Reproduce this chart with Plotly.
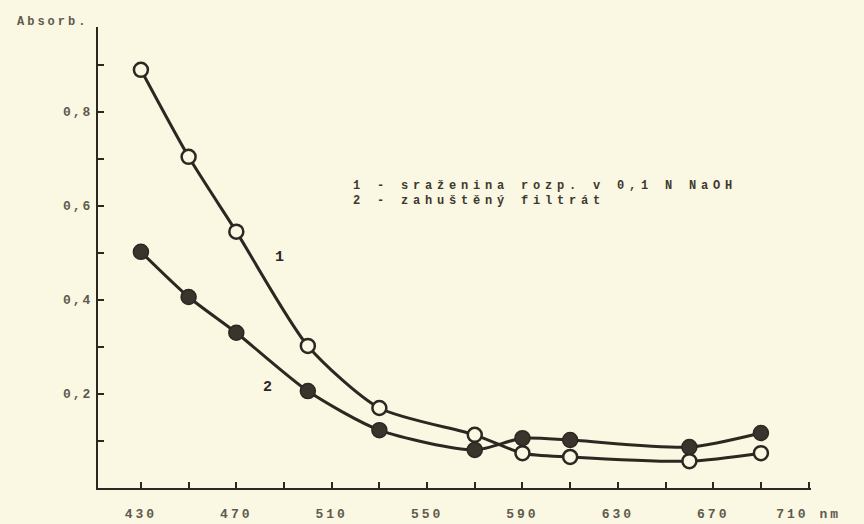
import plotly.graph_objects as go

# Data
wavelength = [430, 450, 470, 500, 530, 570, 590, 610, 660, 690]
absorb_1 = [0.889, 0.704, 0.545, 0.302, 0.170, 0.113, 0.074, 0.066, 0.057, 0.074]  # open circles
absorb_2 = [0.502, 0.406, 0.330, 0.206, 0.123, 0.081, 0.106, 0.102, 0.087, 0.117]  # filled circles

x_tickvals = [430, 450, 470, 490, 510, 530, 550, 570, 590, 610, 630, 650, 670, 690, 710]
x_ticktext = ["430", "", "470", "", "510", "", "550", "", "590", "", "630", "", "670", "", "710 nm"]
y_tickvals = [0.1, 0.2, 0.3, 0.4, 0.5, 0.6, 0.7, 0.8, 0.9]
y_ticktext = ["", "0,2", "", "0,4", "", "0,6", "", "0,8", ""]

legend_lines = ["1 - sraženina rozp. v 0,1 N NaOH", "2 - zahuštěný filtrát"]
curve_labels = ["1", "2"]

PAPER = "#faf7e3"
INK = "#2c2821"
FADED = "#5e5a4d"
FONT = "Liberation Mono"


def spaced(s, ls=4):
    return f'<span style="letter-spacing:{ls}px">{s}</span>'


fig = go.Figure()

fig.add_trace(go.Scatter(
    x=wavelength, y=absorb_1, mode="lines+markers",
    line=dict(color=INK, width=3, shape="spline", smoothing=0.7),
    marker=dict(symbol="circle", size=14, color=PAPER, line=dict(color=INK, width=2.5)),
    showlegend=False, hoverinfo="x+y",
))
fig.add_trace(go.Scatter(
    x=wavelength, y=absorb_2, mode="lines+markers",
    line=dict(color=INK, width=3, shape="spline", smoothing=0.7),
    marker=dict(symbol="circle", size=15, color="#3a342c", line=dict(color=INK, width=1.5)),
    showlegend=False, hoverinfo="x+y",
))

# Curve labels
fig.add_annotation(x=488, y=0.489, xref="x", yref="y", text=curve_labels[0],
                   showarrow=False, font=dict(family=FONT, size=15, color=INK, weight="bold"))
fig.add_annotation(x=483, y=0.213, xref="x", yref="y", text=curve_labels[1],
                   showarrow=False, font=dict(family=FONT, size=15, color=INK, weight="bold"))

# Key text
fig.add_annotation(x=518, y=0.643, xref="x", yref="y", text=spaced(legend_lines[0], 4.8),
                   showarrow=False, xanchor="left", yanchor="middle",
                   font=dict(family=FONT, size=12, color="#3e392f", weight="bold"))
fig.add_annotation(x=518, y=0.610, xref="x", yref="y", text=spaced(legend_lines[1], 4.8),
                   showarrow=False, xanchor="left", yanchor="middle",
                   font=dict(family=FONT, size=12, color="#3e392f", weight="bold"))

# Y axis title
fig.add_annotation(x=-0.117, y=1.011, xref="paper", yref="paper", text=spaced("Absorb.", 3),
                   showarrow=False, xanchor="left", yanchor="middle",
                   font=dict(family=FONT, size=12, color=FADED, weight="bold"))

fig.update_xaxes(
    range=[412, 711], showline=True, linecolor=INK, linewidth=2,
    ticks="inside", ticklen=6, tickwidth=1.5, tickcolor=INK,
    tickvals=x_tickvals, ticktext=[spaced(t, 3) for t in x_ticktext],
    ticklabelstandoff=12, automargin=False,
    tickfont=dict(family=FONT, size=13, color=FADED, weight="bold"),
    showgrid=False, zeroline=False,
)
fig.update_yaxes(
    range=[0, 0.98], showline=True, linecolor=INK, linewidth=2,
    ticks="inside", ticklen=6, tickwidth=1.5, tickcolor=INK,
    tickvals=y_tickvals, ticktext=[spaced(t, 2) for t in y_ticktext],
    ticklabelstandoff=1, automargin=False,
    tickfont=dict(family=FONT, size=13, color=FADED, weight="bold"),
    showgrid=False, zeroline=False,
)

fig.update_layout(
    width=864, height=524,
    margin=dict(l=98, r=53, t=27, b=36, autoexpand=False),
    paper_bgcolor=PAPER, plot_bgcolor=PAPER,
)

fig.write_html(
    "out.html",
    config={"displayModeBar": False},
    post_script="document.body.style.margin='0';document.body.style.background='#faf7e3';",
)
